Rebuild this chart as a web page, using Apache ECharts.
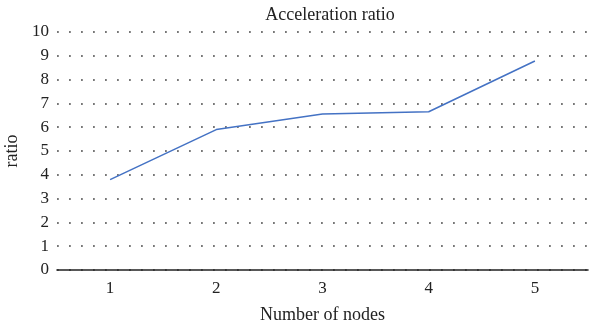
<!DOCTYPE html>
<html><head><meta charset="utf-8">
<script src="https://cdn.jsdelivr.net/npm/echarts@6/dist/echarts.min.js"></script>
<style>html,body{margin:0;padding:0;background:#fff}#c{width:589px;height:330px}</style>
</head><body><div id="c"></div>
<script>
const categories = ['1','2','3','4','5'];
const ratioValues = [3.8, 5.9, 6.55, 6.65, 8.78];
const titleText = 'Acceleration ratio';
const xName = 'Number of nodes';
const yName = 'ratio';
const font = '"Liberation Serif", "DejaVu Serif", serif';
const chart = echarts.init(document.getElementById('c'), null, {renderer:'canvas'});
chart.setOption({
  animation:false,
  title:{text:titleText,left:325,textAlign:'center',top:1,textStyle:{fontFamily:font,fontSize:18,fontWeight:'normal',color:'#222'}},
  grid:{left:57,right:1,top:32,bottom:60,outerBoundsMode:'none',containLabel:false},
  xAxis:{type:'category',data:categories,boundaryGap:true,
    name:xName,nameLocation:'middle',nameGap:36,nameTextStyle:{fontFamily:font,fontSize:18,color:'#222'},
    axisLine:{lineStyle:{color:'#222',width:1.6}},axisTick:{show:false},
    axisLabel:{fontFamily:font,fontSize:17,color:'#222',margin:10}},
  yAxis:{type:'value',min:0,max:10,interval:1,
    name:yName,nameLocation:'middle',nameGap:28,nameRotate:90,nameTextStyle:{fontFamily:font,fontSize:18,color:'#222'},
    axisLine:{show:false},axisTick:{show:false},
    axisLabel:{fontFamily:font,fontSize:17,color:'#222',margin:8},
    splitLine:{lineStyle:{color:'#777',width:1.8,type:[1.8,10.2]}}},
  series:[{type:'line',data:ratioValues,symbol:'none',lineStyle:{color:'#4472c4',width:1.5}}]
});
</script></body></html>
